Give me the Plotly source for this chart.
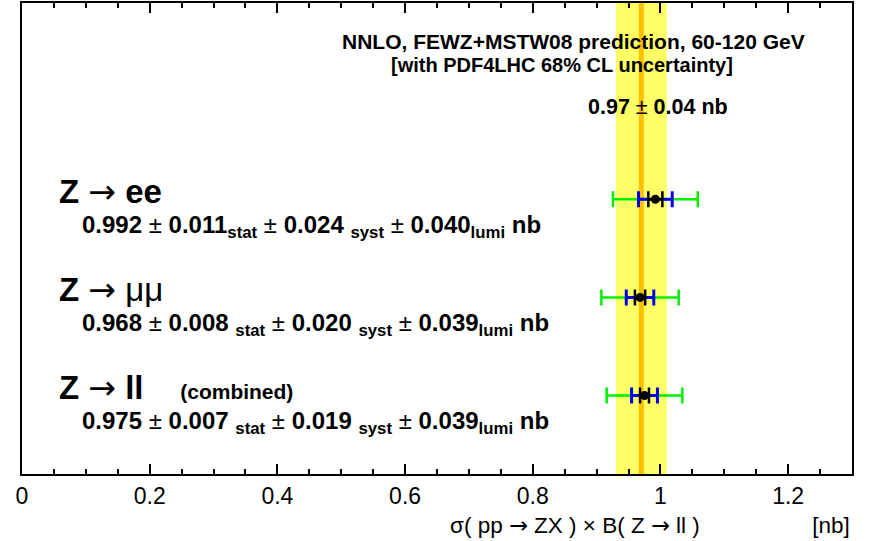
import plotly.graph_objects as go

# Measured cross sections (nb) per channel
channels = ["ee", "mumu", "ll"]
channel_names = ["<b>ee</b>", "\u03bc\u03bc", "<b>ll</b>"]
channel_notes = ["", "", "(combined)"]
y_pos = [3, 2, 1]
sigma = [0.992, 0.968, 0.975]
stat = [0.011, 0.008, 0.007]
syst = [0.024, 0.020, 0.019]
lumi = [0.040, 0.039, 0.039]
stat_gap = ["", " ", " "]   # spacing before the stat subscript
syst_gap = [" ", " ", " "]

# Theory prediction (NNLO FEWZ+MSTW08)
theory = 0.97
theory_err = 0.04

x_ticks = [0, 0.2, 0.4, 0.6, 0.8, 1.0, 1.2]
x_tick_text = ["0", "0.2", "0.4", "0.6", "0.8", "1", "1.2"]

FONT = "Liberation Sans, Arial, Helvetica, sans-serif"
ARROW = "<span style='font-family:DejaVu Sans'>\u2192</span>"
NBSP = "\u00a0"

# error bar half-widths: stat, stat (+) syst, and stat (+) syst + lumi
err_stat = stat
err_ss = [(a ** 2 + b ** 2) ** 0.5 for a, b in zip(stat, syst)]
err_tot = [s + l for s, l in zip(err_ss, lumi)]

fig = go.Figure()

fig.add_trace(go.Scatter(
    x=sigma, y=y_pos, mode="markers",
    marker=dict(size=1, color="rgba(0,0,0,0)"),
    error_x=dict(type="data", array=err_tot, color="#00f000", thickness=2.5, width=8),
    showlegend=False, hoverinfo="skip"))
fig.add_trace(go.Scatter(
    x=sigma, y=y_pos, mode="markers",
    marker=dict(size=1, color="rgba(0,0,0,0)"),
    error_x=dict(type="data", array=err_ss, color="#0000f0", thickness=3, width=8),
    showlegend=False, hoverinfo="skip"))
fig.add_trace(go.Scatter(
    x=sigma, y=y_pos, mode="markers",
    marker=dict(size=9, color="black"),
    error_x=dict(type="data", array=err_stat, color="black", thickness=2.5, width=8),
    showlegend=False, hoverinfo="skip"))

# theory band and central line
fig.add_shape(type="rect", x0=theory - theory_err, x1=theory + theory_err,
              y0=0, y1=1, yref="paper", fillcolor="#ffff66",
              line=dict(width=0), layer="below")
fig.add_shape(type="line", x0=theory, x1=theory, y0=0, y1=1, yref="paper",
              line=dict(color="#ffc000", width=5), layer="below")

ann = []
ann.append(dict(x=658, y=105, xref="paper", yref="paper",
                text=f"<b>{theory:.2f}</b> \u00b1 <b>{theory_err:.2f} nb</b>",
                showarrow=False, font=dict(size=21.5, color="black", family=FONT),
                xanchor="center", yanchor="middle"))
ann.append(dict(x=573, y=40, xref="paper", yref="paper",
                text="<b>NNLO, FEWZ+MSTW08 prediction, 60-120 GeV</b>",
                showarrow=False, xanchor="center", yanchor="middle",
                font=dict(size=21, color="black", family=FONT)))
ann.append(dict(x=562, y=63, xref="paper", yref="paper",
                text="<b>[with PDF4LHC 68% CL uncertainty]</b>",
                showarrow=False, xanchor="center", yanchor="middle",
                font=dict(size=20, color="black", family=FONT)))

for i in range(len(channels)):
    title = f"<b>Z</b> {ARROW} {channel_names[i]}"
    if channel_notes[i]:
        title += (NBSP * 4 + f"<span style='font-size:21px'><b>{channel_notes[i]}</b></span>")
    ann.append(dict(x=57, y=y_pos[i] + 0.08, xref="paper", yref="y", text=title,
                    showarrow=False, xanchor="left", yanchor="middle",
                    font=dict(size=33, color="black", family=FONT)))
    val = (f"<b>{sigma[i]:.3f}</b> \u00b1 <b>{stat[i]:.3f}{stat_gap[i]}<sub>stat</sub></b>"
           f" \u00b1 <b>{syst[i]:.3f}{syst_gap[i]}<sub>syst</sub></b>"
           f" \u00b1 <b>{lumi[i]:.3f}<sub>lumi</sub></b> <b>nb</b>")
    ann.append(dict(x=80, y=y_pos[i] - 0.28, xref="paper", yref="y", text=val,
                    showarrow=False, xanchor="left", yanchor="middle",
                    font=dict(size=24, color="black", family=FONT)))

ann.append(dict(x=852, y=525, xref="paper", yref="paper",
                text=f"\u03c3( pp {ARROW} ZX ) \u00d7 B( Z {ARROW} ll )" + NBSP * 18 + "[nb]",
                showarrow=False, xanchor="right", yanchor="middle",
                font=dict(size=22.5, color="black", family=FONT)))

# convert pixel-placed paper annotations to paper fractions
W, H = 871, 541
L, R, T, B = 22, 19, 1, 67
pw, ph = W - L - R, H - T - B
for a in ann:
    if a["xref"] == "paper":
        a["x"] = (a["x"] - L) / pw
    if a["yref"] == "paper":
        a["y"] = (H - B - a["y"]) / ph

fig.update_layout(
    width=W, height=H,
    margin=dict(l=L, r=R, t=T, b=B),
    paper_bgcolor="white", plot_bgcolor="white",
    annotations=ann,
    showlegend=False,
    font=dict(family=FONT, color="black"),
    xaxis=dict(range=[0, 1.3], tickvals=x_ticks, ticktext=x_tick_text,
               ticks="inside", ticklen=10, tickwidth=1.5, tickcolor="black",
               minor=dict(dtick=0.05, tick0=0, ticks="inside", ticklen=5,
                          tickwidth=1.5, tickcolor="black"),
               showline=True, linecolor="black", linewidth=2, mirror="ticks",
               showgrid=False, zeroline=False,
               tickfont=dict(size=23, family=FONT, color="black")),
    yaxis=dict(range=[0.2, 5.0], showticklabels=False, ticks="",
               showline=True, linecolor="black", linewidth=2, mirror=True,
               showgrid=False, zeroline=False),
)

fig.write_html("out.html")
